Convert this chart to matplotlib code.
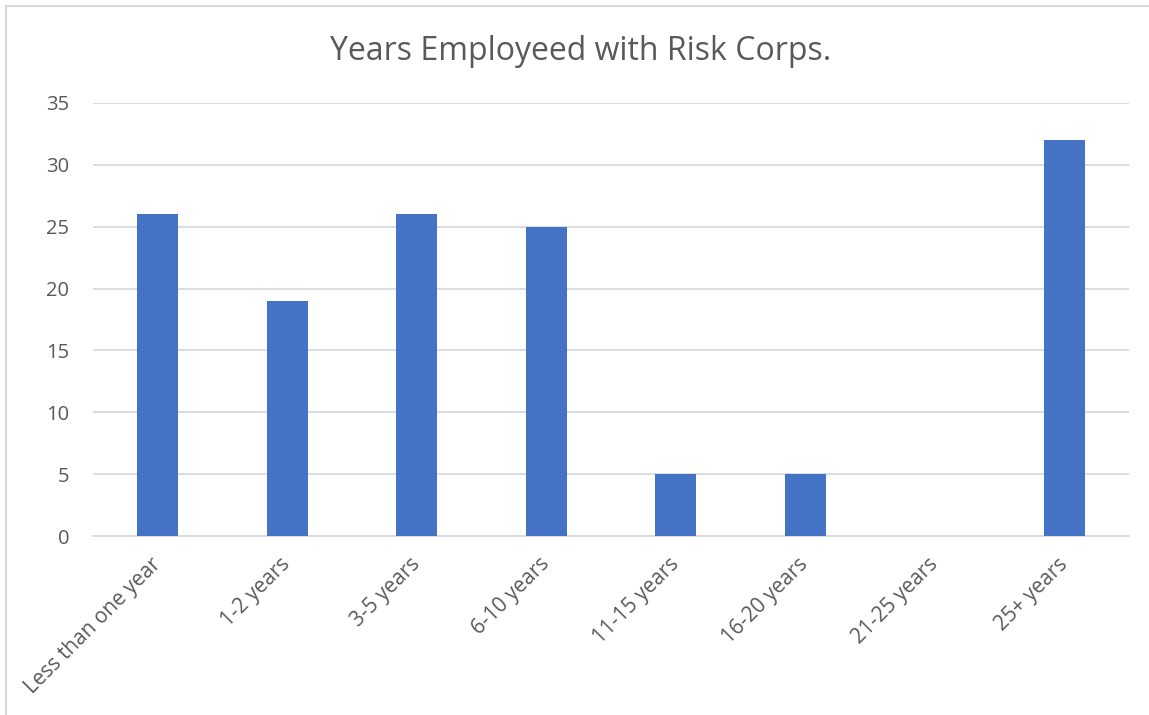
import matplotlib.pyplot as plt
from matplotlib.lines import Line2D

# chart data
categories = [
    "Less than one year",
    "1-2 years",
    "3-5 years",
    "6-10 years",
    "11-15 years",
    "16-20 years",
    "21-25 years",
    "25+ years",
]
counts = [26, 19, 26, 25, 5, 5, 0, 32]
y_ticks = [0, 5, 10, 15, 20, 25, 30, 35]

plt.rcParams["font.family"] = ["Open Sans", "DejaVu Sans"]
text_color = "#595959"
grid_color = "#D9D9D9"

fig = plt.figure(figsize=(11.49, 7.15), dpi=100)
ax = fig.add_axes([93 / 1149, 1 - 536 / 715, 1036 / 1149, 433 / 715])

x = range(len(categories))
ax.bar(x, counts, width=0.313, color="#4472C4", zorder=3)

ax.set_xlim(-0.5, len(categories) - 0.5)
ax.set_ylim(0, 35)
ax.set_yticks(y_ticks)
ax.set_yticklabels([str(v) for v in y_ticks], fontsize=14.5, color=text_color)
ax.set_xticks(list(x))
ax.set_xticklabels(categories, fontsize=15, color=text_color,
                   rotation=45, ha="right", va="center", rotation_mode="anchor")

ax.tick_params(axis="both", length=0)
ax.tick_params(axis="y", pad=17)
ax.tick_params(axis="x", pad=18)
ax.grid(axis="y", color=grid_color, linewidth=1.3, zorder=0)

for side in ["top", "right", "left"]:
    ax.spines[side].set_visible(False)
ax.spines["bottom"].set_color(grid_color)
ax.spines["bottom"].set_linewidth(1.3)

fig.text(0.505, 1 - 52 / 715, "Years Employeed with Risk Corps.",
         fontsize=23, color=text_color, ha="center", va="center")

# chart border (left and top edges visible in the crop)
fig.add_artist(Line2D([5.5 / 1149, 5.5 / 1149], [0, 1 - 5.5 / 715],
                      color=grid_color, linewidth=1.5))
fig.add_artist(Line2D([5.5 / 1149, 1], [1 - 5.5 / 715, 1 - 5.5 / 715],
                      color=grid_color, linewidth=1.5))

fig.savefig("out.png", dpi=100)
